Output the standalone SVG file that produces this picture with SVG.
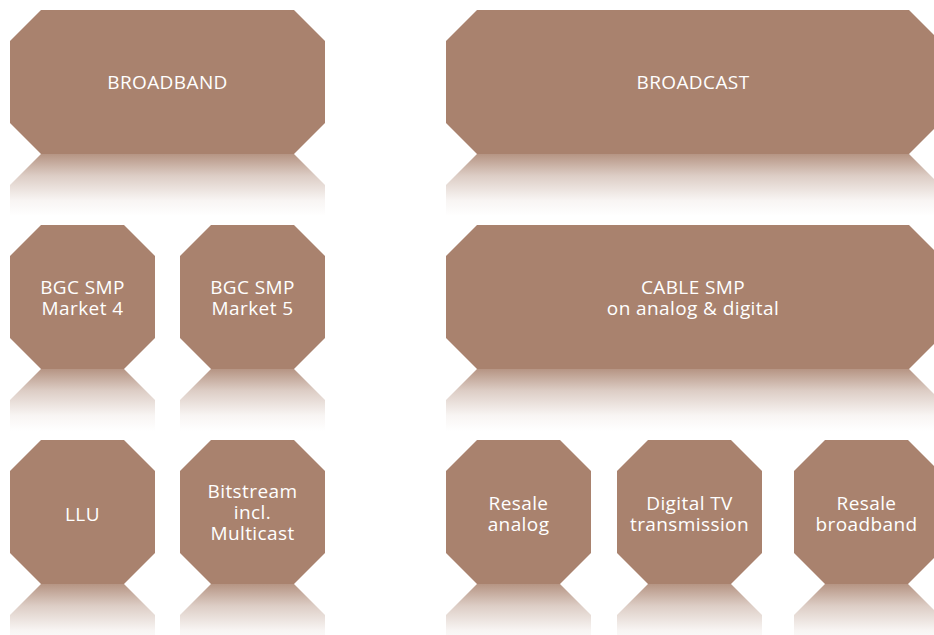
<svg xmlns="http://www.w3.org/2000/svg" width="934" height="635" viewBox="0 0 934 635">
<defs>
<linearGradient id="refl" x1="0" y1="0" x2="0" y2="1">
<stop offset="0" stop-color="#a9826e" stop-opacity="0.85"/>
<stop offset="0.35" stop-color="#a9826e" stop-opacity="0.4"/>
<stop offset="0.75" stop-color="#a9826e" stop-opacity="0.08"/>
<stop offset="1" stop-color="#a9826e" stop-opacity="0"/>
</linearGradient>
<style>
.box{fill:#a9826e}
.refl{fill:url(#refl)}
.t{font-family:"Open Sans","Liberation Sans",sans-serif;font-size:19px;fill:#ffffff;text-anchor:middle;letter-spacing:0.4px}
</style>
</defs>
<rect width="934" height="635" fill="#ffffff"/>
<g id="broadband">
<polygon class="refl" points="41,154 294,154 325,185 325,216 10,216 10,185"/>
<polygon class="box" points="41,10 294,10 325,41 325,123 294,154 41,154 10,123 10,41"/>
<text class="t" x="167.5" y="89">BROADBAND</text>
</g>
<g id="broadcast">
<polygon class="refl" points="477,154 909,154 940,185 940,216 446,216 446,185"/>
<polygon class="box" points="477,10 909,10 940,41 940,123 909,154 477,154 446,123 446,41"/>
<text class="t" x="693" y="89">BROADCAST</text>
</g>
<g id="bgc-market4">
<polygon class="refl" points="41,369 124,369 155,400 155,431 10,431 10,400"/>
<polygon class="box" points="41,225 124,225 155,256 155,338 124,369 41,369 10,338 10,256"/>
<text class="t" x="82.5" y="294">BGC SMP</text>
<text class="t" x="82.5" y="315">Market 4</text>
</g>
<g id="bgc-market5">
<polygon class="refl" points="211,369 294,369 325,400 325,431 180,431 180,400"/>
<polygon class="box" points="211,225 294,225 325,256 325,338 294,369 211,369 180,338 180,256"/>
<text class="t" x="252.5" y="294">BGC SMP</text>
<text class="t" x="252.5" y="315">Market 5</text>
</g>
<g id="cable-smp">
<polygon class="refl" points="477,369 909,369 940,400 940,431 446,431 446,400"/>
<polygon class="box" points="477,225 909,225 940,256 940,338 909,369 477,369 446,338 446,256"/>
<text class="t" x="693" y="294">CABLE SMP</text>
<text class="t" x="693" y="315">on analog &amp; digital</text>
</g>
<g id="llu">
<polygon class="refl" points="41,584 124,584 155,615 155,646 10,646 10,615"/>
<polygon class="box" points="41,440 124,440 155,471 155,553 124,584 41,584 10,553 10,471"/>
<text class="t" x="82.5" y="521">LLU</text>
</g>
<g id="bitstream">
<polygon class="refl" points="211,584 294,584 325,615 325,646 180,646 180,615"/>
<polygon class="box" points="211,440 294,440 325,471 325,553 294,584 211,584 180,553 180,471"/>
<text class="t" x="252.5" y="498">Bitstream</text>
<text class="t" x="252.5" y="519">incl.</text>
<text class="t" x="252.5" y="540">Multicast</text>
</g>
<g id="resale-analog">
<polygon class="refl" points="477,584 560,584 591,615 591,646 446,646 446,615"/>
<polygon class="box" points="477,440 560,440 591,471 591,553 560,584 477,584 446,553 446,471"/>
<text class="t" x="518.5" y="510">Resale</text>
<text class="t" x="518.5" y="531">analog</text>
</g>
<g id="digital-tv">
<polygon class="refl" points="648,584 731,584 762,615 762,646 617,646 617,615"/>
<polygon class="box" points="648,440 731,440 762,471 762,553 731,584 648,584 617,553 617,471"/>
<text class="t" x="689.5" y="510">Digital TV</text>
<text class="t" x="689.5" y="531">transmission</text>
</g>
<g id="resale-broadband">
<polygon class="refl" points="825,584 908,584 939,615 939,646 794,646 794,615"/>
<polygon class="box" points="825,440 908,440 939,471 939,553 908,584 825,584 794,553 794,471"/>
<text class="t" x="866.5" y="510">Resale</text>
<text class="t" x="866.5" y="531">broadband</text>
</g>
<g id="connectors"></g>
</svg>
